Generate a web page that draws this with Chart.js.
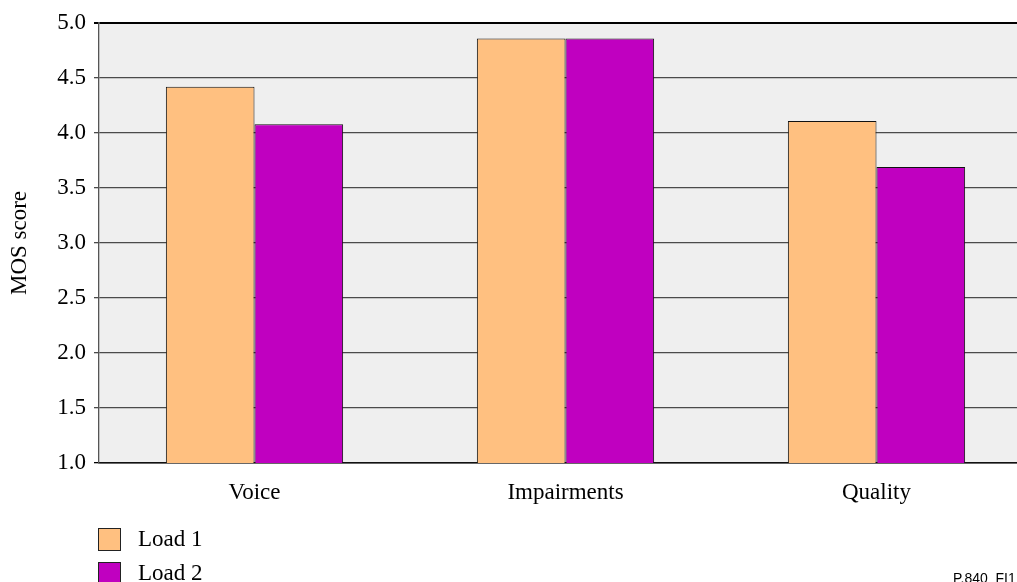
<!DOCTYPE html>
<html>
<head>
<meta charset="utf-8">
<script src="https://cdn.jsdelivr.net/npm/chart.js@4"></script>
<style>
  html, body { margin: 0; padding: 0; background: #fff; overflow: hidden; }
  #wrap { width: 1017px; height: 582px; overflow: hidden; position: relative; }
  #box { width: 1045px; height: 592px; position: absolute; left: 0; top: 0; }
</style>
</head>
<body>
<div id="wrap"><div id="box"><canvas id="myChart"></canvas></div></div>
<script>
const categorias = ['Voice', 'Impairments', 'Quality'];
const load1 = [4.42, 4.86, 4.11];
const load2 = [4.08, 4.86, 3.69];
const nombresSeries = ['Load 1', 'Load 2'];
const coloresSeries = ['#FFC080', '#C000C0'];
const yTicks = [1.0, 1.5, 2.0, 2.5, 3.0, 3.5, 4.0, 4.5, 5.0];

const serif = "'Liberation Serif', 'Times New Roman', serif";

// fondo gris del area de la grafica
const fondoPlot = {
    id: 'fondoPlot',
    beforeDraw(chart){
        let a = chart.chartArea;
        let ctx = chart.ctx;
        ctx.save();
        ctx.fillStyle = '#EFEFEF';
        ctx.fillRect(a.left, a.top, a.right - a.left, a.bottom - a.top);
        ctx.restore();
    }
};

// leyenda vertical abajo a la izquierda + marca de figura
const leyenda = {
    id: 'leyenda',
    afterDraw(chart){
        let ctx = chart.ctx;
        ctx.save();
        chart.data.datasets.forEach(function(ds, i){
            let y = 528 + i * 34;
            ctx.fillStyle = ds.backgroundColor;
            ctx.fillRect(98.5, y + 0.5, 22, 22);
            ctx.strokeStyle = '#222';
            ctx.lineWidth = 1;
            ctx.strokeRect(98.5, y + 0.5, 22, 22);
            ctx.fillStyle = '#000';
            ctx.font = '23px ' + serif;
            ctx.textBaseline = 'middle';
            ctx.textAlign = 'left';
            ctx.fillText(ds.label, 138, y + 12);
        });
        ctx.font = '14px "Liberation Sans", Arial, sans-serif';
        ctx.fillStyle = '#000';
        ctx.textBaseline = 'top';
        ctx.fillText('P.840_FI1', 953, 572);
        ctx.restore();
    }
};

let ctx = document.getElementById('myChart');
let myChart = new Chart(ctx, {
    type: 'bar',
    data: {
        labels: categorias,
        datasets: [{
            label: nombresSeries[0],
            data: load1,
            backgroundColor: coloresSeries[0],
            borderColor: '#111',
            borderWidth: 1
        },{
            label: nombresSeries[1],
            data: load2,
            backgroundColor: coloresSeries[1],
            borderColor: '#111',
            borderWidth: 1
        }]
    },
    options: {
        responsive: true,
        maintainAspectRatio: false,
        animation: false,
        layout: { padding: { left: 0, top: 23, right: 13, bottom: 0 } },
        categoryPercentage: 0.57,
        barPercentage: 1.0,
        plugins: {
            legend: { display: false },
            tooltip: { enabled: false }
        },
        scales: {
            x: {
                grid: { display: false },
                border: { display: true, color: '#111', width: 1.5 },
                ticks: { color: '#000', font: { family: serif, size: 23 }, padding: 8 },
                afterFit: function(scale){ scale.height = 592 - 463; }
            },
            y: {
                min: 1,
                max: 5,
                afterBuildTicks: function(scale){
                    scale.ticks = yTicks.map(function(v){ return { value: v }; });
                },
                afterFit: function(scale){ scale.width = 99; },
                grid: {
                    color: function(c){ return (c.tick && (c.tick.value === 5 || c.tick.value === 1)) ? '#000' : '#4a4a4a'; },
                    lineWidth: function(c){ return (c.tick && c.tick.value === 5) ? 2 : 1.3; },
                    tickLength: 5
                },
                border: { display: true, color: '#555', width: 1.3 },
                ticks: {
                    color: '#000',
                    font: { family: serif, size: 23 },
                    padding: 8,
                    callback: function(v){ return Number(v).toFixed(1); }
                },
                title: {
                    display: true,
                    text: 'MOS score',
                    color: '#000',
                    font: { family: serif, size: 23 },
                    padding: { top: 6, bottom: 0 }
                }
            }
        }
    },
    plugins: [fondoPlot, leyenda]
});
</script>
</body>
</html>
